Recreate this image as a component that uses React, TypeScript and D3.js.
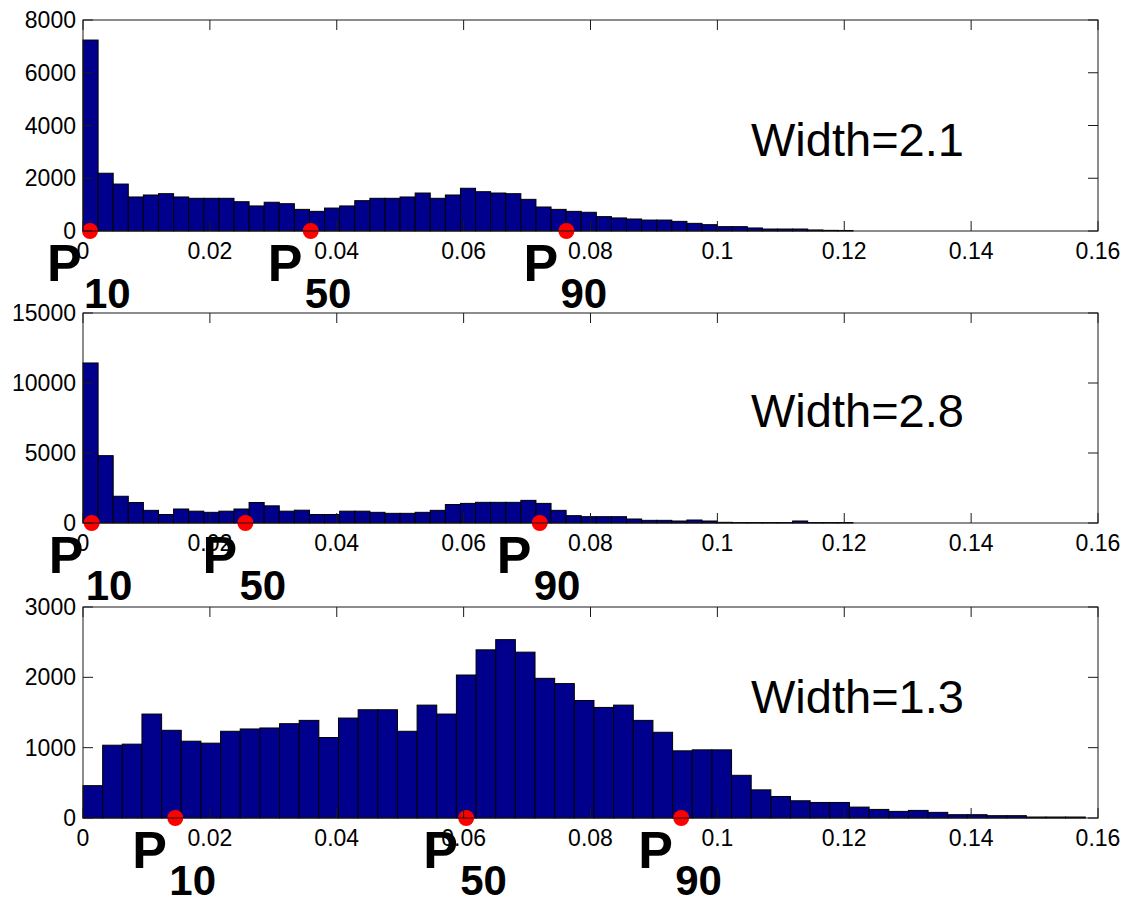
import * as d3 from 'd3';
import { useEffect, useRef } from 'react';

// x axis (shared by all three histograms)
const xTicks = [0, 0.02, 0.04, 0.06, 0.08, 0.1, 0.12, 0.14, 0.16];
const xTickLabels = ['0', '0.02', '0.04', '0.06', '0.08', '0.1', '0.12', '0.14', '0.16'];
const percentileNames = ['10', '50', '90'];

// Width=2.1
const countsW21 = [
  7240, 2190, 1780, 1290, 1365, 1415, 1290, 1240, 1240, 1240,
  1110, 950, 1090, 1035, 820, 745, 870, 950, 1150, 1240,
  1240, 1290, 1440, 1240, 1365, 1620, 1490, 1440, 1415, 1200,
  910, 820, 745, 710, 545, 495, 455, 415, 415, 365,
  290, 240, 165, 165, 115, 75, 75, 75, 40, 25, 20,
];
const binW21 = 0.00238;
const pctW21 = [0.0011, 0.0359, 0.0762];
const yTicksW21 = [0, 2000, 4000, 6000, 8000];

// Width=2.8
const countsW28 = [
  11430, 4810, 1910, 1465, 904, 605, 1000, 845, 762, 845,
  1000, 1465, 1225, 845, 915, 605, 605, 845, 845, 762,
  690, 690, 762, 904, 1320, 1400, 1476, 1476, 1476, 1618,
  1400, 904, 524, 452, 452, 452, 286, 190, 190, 143,
  214, 143, 48, 35, 35, 35, 35, 143, 35, 35, 35,
];
const binW28 = 0.00238;
const pctW28 = [0.00137, 0.0256, 0.072];
const yTicksW28 = [0, 5000, 10000, 15000];

// Width=1.3
const countsW13 = [
  460, 1035, 1050, 1478, 1247, 1092, 1064, 1233, 1266, 1280,
  1341, 1388, 1144, 1421, 1539, 1539, 1233, 1605, 1478, 2033,
  2391, 2536, 2358, 1986, 1911, 1671, 1572, 1605, 1388, 1219,
  955, 969, 969, 607, 400, 306, 245, 221, 221, 155,
  122, 94, 108, 80, 47, 47, 33, 33, 14, 14, 14,
];
const binW13 = 0.003098;
const pctW13 = [0.01455, 0.0604, 0.0943];
const yTicksW13 = [0, 1000, 2000, 3000];

const FONT = '"Liberation Sans", Arial, Helvetica, sans-serif';

const App = () => {
  const ref = useRef<SVGSVGElement>(null);

  useEffect(() => {
    const svg = d3.select(ref.current);
    svg.selectAll('*').remove();

    const left = 83;
    const right = 1098;

    const panels = [
      { label: 'Width=2.1', counts: countsW21, bin: binW21, pct: pctW21, yTicks: yTicksW21, top: 20, bottom: 231, labelY: 156 },
      { label: 'Width=2.8', counts: countsW28, bin: binW28, pct: pctW28, yTicks: yTicksW28, top: 313, bottom: 523, labelY: 427 },
      { label: 'Width=1.3', counts: countsW13, bin: binW13, pct: pctW13, yTicks: yTicksW13, top: 607, bottom: 818, labelY: 713 },
    ];

    const x = d3.scaleLinear().domain([0, 0.16]).range([left, right]);

    panels.forEach((p) => {
      const y = d3.scaleLinear()
        .domain([0, p.yTicks[p.yTicks.length - 1]])
        .range([p.bottom, p.top]);

      const g = svg.append('g');

      // bars
      g.selectAll('rect.bar')
        .data(p.counts)
        .enter()
        .append('rect')
        .attr('class', 'bar')
        .attr('x', (_, i) => x(i * p.bin))
        .attr('width', (_, i) => x((i + 1) * p.bin) - x(i * p.bin))
        .attr('y', (d) => y(d))
        .attr('height', (d) => y(0) - y(d))
        .attr('fill', '#00008c')
        .attr('stroke', '#000')
        .attr('stroke-width', 1);

      // percentile markers
      g.selectAll('circle.pct')
        .data(p.pct)
        .enter()
        .append('circle')
        .attr('cx', (d) => x(d))
        .attr('cy', y(0))
        .attr('r', 8)
        .attr('fill', '#ff0000');

      // box
      g.append('rect')
        .attr('x', left)
        .attr('y', p.top)
        .attr('width', right - left)
        .attr('height', p.bottom - p.top)
        .attr('fill', 'none')
        .attr('stroke', '#1a1a1a')
        .attr('stroke-width', 1);

      // x ticks (inward, top and bottom)
      xTicks.forEach((t) => {
        g.append('line')
          .attr('x1', x(t)).attr('x2', x(t))
          .attr('y1', p.bottom).attr('y2', p.bottom - 10)
          .attr('stroke', '#1a1a1a');
        g.append('line')
          .attr('x1', x(t)).attr('x2', x(t))
          .attr('y1', p.top).attr('y2', p.top + 10)
          .attr('stroke', '#1a1a1a');
      });

      // y ticks (inward, left and right)
      p.yTicks.forEach((t) => {
        g.append('line')
          .attr('x1', left).attr('x2', left + 10)
          .attr('y1', y(t)).attr('y2', y(t))
          .attr('stroke', '#1a1a1a');
        g.append('line')
          .attr('x1', right).attr('x2', right - 10)
          .attr('y1', y(t)).attr('y2', y(t))
          .attr('stroke', '#1a1a1a');
      });

      // x tick labels
      g.selectAll('text.xt')
        .data(xTicks)
        .enter()
        .append('text')
        .attr('x', (d) => x(d))
        .attr('y', p.bottom + 28)
        .attr('text-anchor', 'middle')
        .attr('font-family', FONT)
        .attr('font-size', 23)
        .text((_, i) => xTickLabels[i]);

      // y tick labels
      g.selectAll('text.yt')
        .data(p.yTicks)
        .enter()
        .append('text')
        .attr('x', left - 7)
        .attr('y', (d) => y(d) + 8)
        .attr('text-anchor', 'end')
        .attr('font-family', FONT)
        .attr('font-size', 23)
        .text((d) => String(d));

      // P labels
      p.pct.forEach((v, i) => {
        g.append('text')
          .attr('x', x(v) - 43)
          .attr('y', p.bottom + 50)
          .attr('font-family', FONT)
          .attr('font-weight', 'bold')
          .attr('font-size', 52)
          .text('P');
        g.append('text')
          .attr('x', x(v) - 6)
          .attr('y', p.bottom + 77)
          .attr('font-family', FONT)
          .attr('font-weight', 'bold')
          .attr('font-size', 42)
          .text(percentileNames[i]);
      });

      // width label
      g.append('text')
        .attr('x', 751)
        .attr('y', p.labelY)
        .attr('font-family', FONT)
        .attr('font-size', 47)
        .text(p.label);
    });
  }, []);

  return (
    <svg
      ref={ref}
      width={1133}
      height={899}
      style={{ position: 'absolute', left: 0, top: 0, background: '#fff' }}
    />
  );
};

export default App;
